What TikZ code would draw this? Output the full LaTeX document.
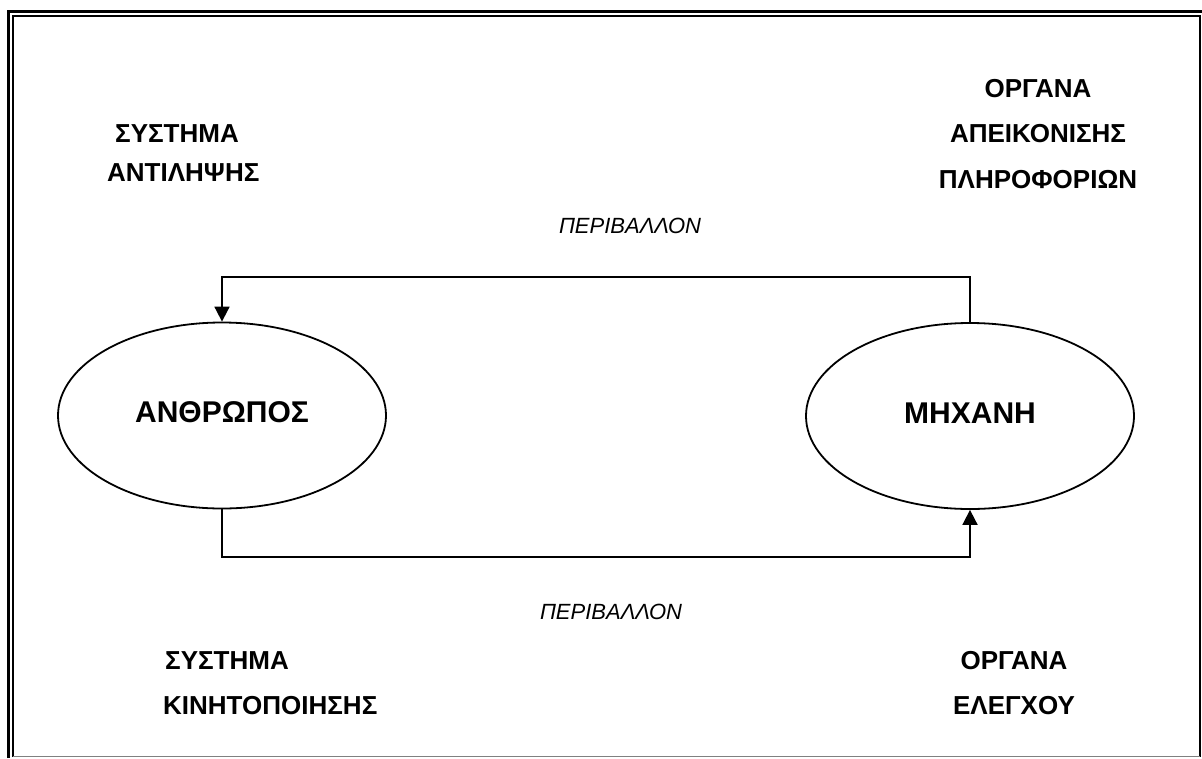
\documentclass[tikz,border=0pt]{standalone}
\usepackage{fontspec}
\setmainfont{Liberation Sans}
\usetikzlibrary{shapes.geometric,arrows.meta}
\begin{document}
\begin{tikzpicture}[x=1pt,y=-1pt,
  unit/.style={ellipse,draw,line width=1.8pt,minimum width=328pt,minimum height=186pt,
    inner sep=0pt,text height=21.5pt,text depth=7pt,font=\fontsize{30}{32}\selectfont\bfseries},
  lbl/.style={font=\fontsize{26}{28}\selectfont\bfseries,inner sep=0pt},
  envlbl/.style={font=\fontsize{22}{24}\selectfont\itshape,inner sep=0pt},
  flow/.style={line width=1.8pt,line join=miter,-{Triangle[length=15pt,width=15pt]}}]
\useasboundingbox (0,0) rectangle (1202,758);
\fill[white] (0,0) rectangle (1202,758);
% page border (double rule)
\draw[line width=3pt] (8,758) -- (8,11) -- (1202,11);
\draw[line width=2pt] (13,757) -- (13,16) -- (1200,16) -- (1200,757);
\draw[gray,line width=1.5pt] (13,756.5) -- (1200,756.5);

% the two units
\node[unit] (human) at (222,415.5) {ΑΝΘΡΩΠΟΣ};
\node[unit] (machine) at (970,416) {ΜΗΧΑΝΗ};

% feedback loop
\coordinate (topbend) at (0,277);
\coordinate (botbend) at (0,557);
\draw[flow] (machine.north) -- (machine.north |- topbend) -- (human.north |- topbend) -- (human.north);
\draw[flow] (human.south) -- (human.south |- botbend) -- (machine.south |- botbend) -- (machine.south);

% environment labels
\node[envlbl,anchor=base] (envtop) at (630,233) {ΠΕΡΙΒΑΛΛΟΝ};
\node[envlbl,anchor=base] (envbot) at (611,619) {ΠΕΡΙΒΑΛΛΟΝ};

% subsystem labels
\node[lbl,anchor=base west] (perc1) at (115,142) {ΣΥΣΤΗΜΑ};
\node[lbl,anchor=base west] (perc2) at (107,181) {ΑΝΤΙΛΗΨΗΣ};
\node[lbl,anchor=base] (disp1) at (1038,97) {ΟΡΓΑΝΑ};
\node[lbl,anchor=base] (disp2) at (1038,142) {ΑΠΕΙΚΟΝΙΣΗΣ};
\node[lbl,anchor=base] (disp3) at (1038,188) {ΠΛΗΡΟΦΟΡΙΩΝ};
\node[lbl,anchor=base west] (mot1) at (165,669) {ΣΥΣΤΗΜΑ};
\node[lbl,anchor=base west] (mot2) at (163,714) {ΚΙΝΗΤΟΠΟΙΗΣΗΣ};
\node[lbl,anchor=base] (ctl1) at (1014,669) {ΟΡΓΑΝΑ};
\node[lbl,anchor=base] (ctl2) at (1014,714) {ΕΛΕΓΧΟΥ};
\end{tikzpicture}
\end{document}
